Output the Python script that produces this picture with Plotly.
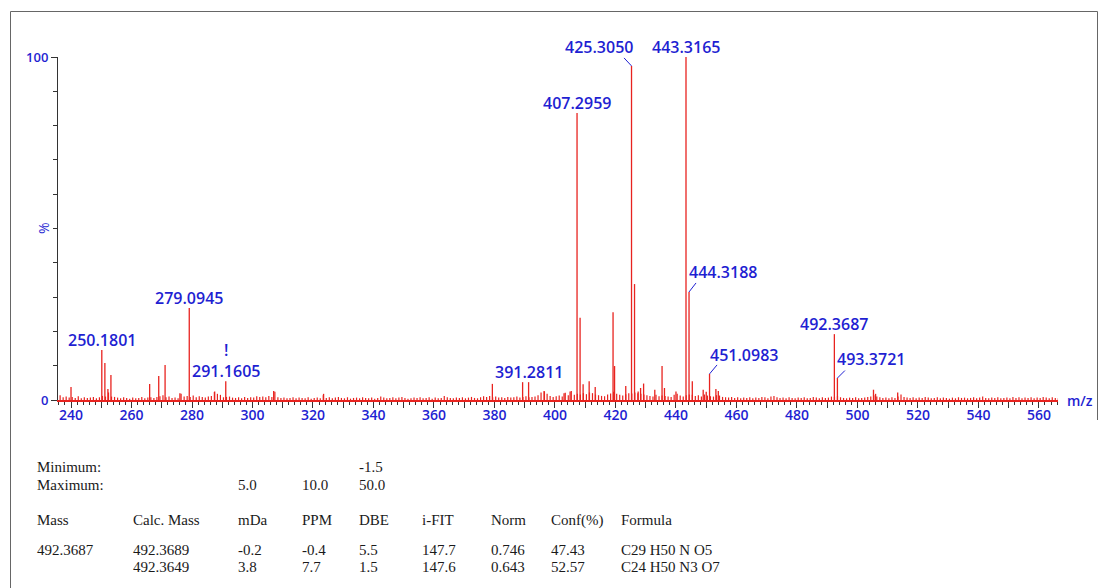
import plotly.graph_objects as go

# ---------------- data ----------------
# labelled peaks (m/z, relative intensity %)
label_mz = [250.1801, 279.0945, 291.1605, 391.2811, 407.2959, 425.3050,
            443.3165, 444.3188, 451.0983, 492.3687, 493.3721]
label_int = [14.6, 26.8, 5.5, 5.2, 83.7, 97.4, 100.0, 31.5, 7.6, 19.2, 6.4]

# other visible (unlabelled) peaks
peak_mz = [240.0, 251.2, 252.2, 253.2, 266.0, 269.0, 271.1, 276.0, 287.5,
           307.0, 323.5, 379.3, 389.3, 396.5, 403.0, 405.0, 408.3, 409.3,
           411.3, 413.3, 419.2, 419.7, 423.4, 426.3, 427.5, 428.3, 429.3,
           433.0, 435.4, 436.2, 440.0, 445.4, 449.0, 450.0, 453.2, 454.0,
           505.3, 506.0, 513.3]
peak_int = [3.8, 10.8, 3.2, 7.3, 4.7, 7.0, 10.2, 2.0, 2.5,
            2.6, 1.8, 4.7, 5.2, 2.5, 2.0, 2.5, 24.0, 4.6,
            5.5, 3.8, 25.6, 9.9, 4.1, 33.8, 2.5, 3.5, 4.8,
            3.0, 9.9, 3.5, 2.5, 5.5, 3.0, 2.4, 3.2, 2.6,
            3.0, 1.8, 2.2]

# baseline noise, one value per m/z unit starting at 236
noise_start = 236
noise_int = [
    1.4, 0.8, 1.0, 0.7, 0.9, 0.6, 1.1, 0.5, 0.8, 0.6,
    0.7, 0.9, 0.5, 0.8, 1.2, 1.0, 2.2, 1.0, 0.9, 0.7,
    0.5, 0.8, 0.6, 0.4, 0.7, 0.5, 0.6, 0.9, 0.5, 0.7,
    0.8, 0.6, 0.9, 1.1, 1.4, 0.8, 1.0, 0.6, 0.7, 0.5,
    1.8, 1.0, 1.2, 0.9, 1.3, 0.8, 1.1, 0.9, 0.7, 1.0,
    1.2, 2.3, 1.8, 1.5, 0.8, 0.9, 1.0, 0.7, 0.6, 0.8,
    0.5, 0.9, 0.6, 0.8, 0.7, 1.1, 0.9, 1.0, 0.8, 1.2,
    0.9, 2.4, 0.8, 0.6, 0.7, 0.5, 0.6, 0.8, 0.5, 0.7,
    0.6, 0.5, 0.8, 0.4, 0.6, 0.7, 0.5, 1.4, 0.6, 0.8,
    0.5, 0.7, 0.9, 0.6, 0.5, 0.8, 0.4, 0.6, 0.7, 0.5,
    0.8, 0.6, 0.5, 0.7, 0.4, 0.6, 1.0, 0.7, 0.5, 0.6,
    0.8, 0.5, 0.7, 0.9, 0.6, 0.4, 0.5, 0.7, 0.6, 0.8,
    0.5, 0.6, 0.8, 0.4, 0.7, 0.5, 0.6, 1.2, 0.8, 0.6,
    0.5, 0.7, 0.6, 0.8, 0.5, 0.7, 0.9, 0.6, 0.5, 0.8,
    1.1, 0.9, 1.2, 0.8, 1.0, 0.7, 0.8, 0.6, 0.9, 0.7,
    0.8, 1.0, 0.7, 0.9, 1.1, 0.8, 0.9, 1.0, 1.4, 2.2,
    2.6, 1.8, 1.2, 0.9, 1.1, 1.3, 1.0, 2.1, 1.4, 2.6,
    1.5, 1.8, 1.6, 2.0, 1.7, 2.2, 2.0, 1.6, 1.4, 1.2,
    1.1, 1.6, 1.9, 2.4, 1.8, 1.5, 1.3, 1.7, 2.0, 1.9,
    2.2, 2.0, 1.8, 1.6, 1.4, 1.2, 1.0, 1.5, 1.1, 1.3,
    1.2, 1.0, 0.9, 1.5, 1.8, 1.3, 1.0, 1.4, 1.6, 1.5,
    1.2, 1.4, 1.0, 1.6, 1.3, 1.1, 1.0, 1.4, 1.3, 0.9,
    0.8, 0.7, 0.9, 0.6, 0.8, 0.5, 0.7, 0.6, 0.8, 0.5,
    0.7, 0.6, 0.9, 0.8, 0.5, 1.0, 1.2, 0.8, 0.6, 0.7,
    0.5, 0.8, 0.6, 0.5, 0.7, 0.6, 0.8, 0.5, 0.6, 0.9,
    0.7, 0.5, 0.8, 0.6, 0.7, 1.0, 0.9, 1.2, 0.8, 0.6,
    0.5, 0.7, 0.6, 0.8, 0.5, 0.6, 0.7, 0.9, 1.0, 1.4,
    1.0, 0.8, 0.6, 0.7, 0.5, 0.8, 0.6, 1.0, 1.6, 0.9,
    0.7, 0.6, 0.8, 0.5, 0.7, 0.6, 0.9, 0.7, 0.5, 0.6,
    0.8, 0.5, 0.7, 0.6, 0.4, 0.7, 0.5, 0.8, 0.6, 0.7,
    0.5, 0.6, 0.8, 0.5, 0.7, 1.0, 0.6, 0.5, 0.7, 0.6,
    0.8, 0.5, 0.6, 0.7, 0.5, 0.9, 0.6, 0.8, 0.5, 0.7,
    0.6, 0.8, 0.5, 0.7, 0.6, 0.9, 0.7, 0.5, 0.8, 0.6,
    0.5,
]

x_ticks = list(range(240, 561, 10))
x_tick_labels = [str(v) if v % 20 == 0 else "" for v in x_ticks]
y_ticks = [0, 100]
y_tick_labels = ["0", "100"]

# elemental composition table
table_limits = [
    ["Minimum:", "", "", "", "-1.5"],
    ["Maximum:", "", "5.0", "10.0", "50.0"],
]
table_header = ["Mass", "Calc. Mass", "mDa", "PPM", "DBE", "i-FIT", "Norm", "Conf(%)", "Formula"]
table_rows = [
    ["492.3687", "492.3689", "-0.2", "-0.4", "5.5", "147.7", "0.746", "47.43", "C29 H50 N O5"],
    ["", "492.3649", "3.8", "7.7", "1.5", "147.6", "0.643", "52.57", "C24 H50 N3 O7"],
]

# ---------------- styling ----------------
RED = "#e8231f"
BLUE = "#1f1fd2"
W, H = 1105, 588
ML, MR, MT, MB = 58, 47, 57, 188
PW, PH = W - ML - MR, H - MT - MB

# label placement: (x shift px, y shift px of label centre, connector dx, dy)
label_style = {
    425.3050: (-33, 19, -7.5, 8),
    444.3188: (34, 20, 7, 9),
    451.0983: (34, 19, 7.5, 9),
    493.3721: (34, 19, 7.5, 7.5),
}


def sticks(xs, ys):
    px, py = [], []
    for x, y in zip(xs, ys):
        px += [x, x, None]
        py += [0, y, None]
    return px, py


fig = go.Figure()

nx = [noise_start + i + 0.4 for i in range(len(noise_int))]
sx, sy = sticks(nx, noise_int)
fig.add_trace(go.Scatter(x=sx, y=sy, mode="lines", line=dict(color=RED, width=1.2),
                         hoverinfo="skip", showlegend=False))
sx, sy = sticks(peak_mz, peak_int)
fig.add_trace(go.Scatter(x=sx, y=sy, mode="lines", line=dict(color=RED, width=1.3),
                         hoverinfo="skip", showlegend=False))
sx, sy = sticks(label_mz, label_int)
fig.add_trace(go.Scatter(x=sx, y=sy, mode="lines", line=dict(color=RED, width=1.3),
                         hoverinfo="skip", showlegend=False))

annotations = []
shapes = []
lab_font = dict(family="Open Sans, Noto Sans, sans-serif", size=16, color=BLUE, weight=600)
for mz, h in zip(label_mz, label_int):
    xs, ys, cdx, cdy = label_style.get(mz, (0, 10, None, None))
    annotations.append(dict(x=mz, y=h, xref="x", yref="y", text=f"{mz:.4f}",
                            showarrow=False, xanchor="center", yanchor="middle",
                            xshift=xs, yshift=ys, font=lab_font))
    if cdx is not None:
        shapes.append(dict(type="line", xref="x", yref="y", xsizemode="pixel",
                           ysizemode="pixel", xanchor=mz, yanchor=h,
                           x0=0, y0=0, x1=cdx, y1=cdy,
                           line=dict(color=BLUE, width=1)))
    if mz == 291.1605:
        annotations.append(dict(x=mz, y=h, xref="x", yref="y", text="!",
                                showarrow=False, xanchor="center", yanchor="middle",
                                yshift=31, font=lab_font))

# % label and m/z label
annotations.append(dict(x=0, y=50, xref="paper", yref="y", text="%", textangle=-90,
                        showarrow=False, xanchor="right", yanchor="middle", xshift=-3,
                        font=dict(family="Open Sans, sans-serif", size=14, color=BLUE)))
annotations.append(dict(x=1, y=0, xref="paper", yref="y", text="m/z",
                        showarrow=False, xanchor="left", yanchor="middle", xshift=7,
                        font=dict(family="Open Sans, sans-serif", size=14, color=BLUE, weight=600)))

# table as text
tab_font = dict(family="Liberation Serif, serif", size=15, color="#1a1a1a")
col_px = [35, 131, 236, 300, 357, 420, 489, 549, 619]
lim_cols = [35, None, 236, 300, 357]


def px_to_paper_x(px):
    return (px - ML) / PW


def py_to_paper_y(py):
    return (H - MB - py) / PH


def put_row(cells, cols, ypx):
    for txt, cx in zip(cells, cols):
        if txt and cx is not None:
            annotations.append(dict(x=px_to_paper_x(cx), y=py_to_paper_y(ypx),
                                    xref="paper", yref="paper", text=txt,
                                    showarrow=False, xanchor="left", yanchor="middle",
                                    font=tab_font))


put_row(table_limits[0], lim_cols, 467)
put_row(table_limits[1], lim_cols, 485)
put_row(table_header, col_px, 520)
put_row(table_rows[0], col_px, 550)
put_row(table_rows[1], col_px, 567)

# frame
frame = dict(color="#666", width=1)
x_l, x_r = px_to_paper_x(10.5), px_to_paper_x(1097.5)
y_t, y_b = py_to_paper_y(11.5), py_to_paper_y(H)
shapes.append(dict(type="line", xref="paper", yref="paper", x0=x_l, x1=x_l, y0=y_b, y1=y_t, line=frame))
shapes.append(dict(type="line", xref="paper", yref="paper", x0=x_l, x1=x_r, y0=y_t, y1=y_t, line=frame))
shapes.append(dict(type="line", xref="paper", yref="paper", x0=x_r, x1=x_r, y0=py_to_paper_y(420), y1=y_t, line=frame))

fig.update_layout(
    width=W, height=H, autosize=False,
    margin=dict(l=ML, r=MR, t=MT, b=MB, pad=0),
    paper_bgcolor="white", plot_bgcolor="white",
    showlegend=False,
    annotations=annotations, shapes=shapes,
    xaxis=dict(range=[235.7, 566.3], showgrid=False, zeroline=False,
               showline=True, linecolor=RED, linewidth=2,
               tickmode="array", tickvals=x_ticks, ticktext=x_tick_labels,
               ticks="outside", ticklen=6, tickwidth=1, tickcolor="#333",
               ticklabelstandoff=-5,
               minor=dict(dtick=2, ticks="outside", ticklen=3, tickcolor="#333", tickwidth=1),
               tickfont=dict(family="Open Sans, sans-serif", size=14, color=BLUE, weight=600)),
    yaxis=dict(range=[0, 100], showgrid=False, zeroline=False,
               showline=True, linecolor="#333", linewidth=1,
               tickmode="array", tickvals=y_ticks, ticktext=y_tick_labels,
               ticks="outside", ticklen=6, tickcolor="#333",
               minor=dict(dtick=10, ticks="outside", ticklen=4, tickcolor="#333"),
               tickfont=dict(family="Open Sans, sans-serif", size=13, color=BLUE, weight=600)),
)

fig.write_html("out.html", config={"displayModeBar": False},
               post_script="document.body.style.margin='0';")
